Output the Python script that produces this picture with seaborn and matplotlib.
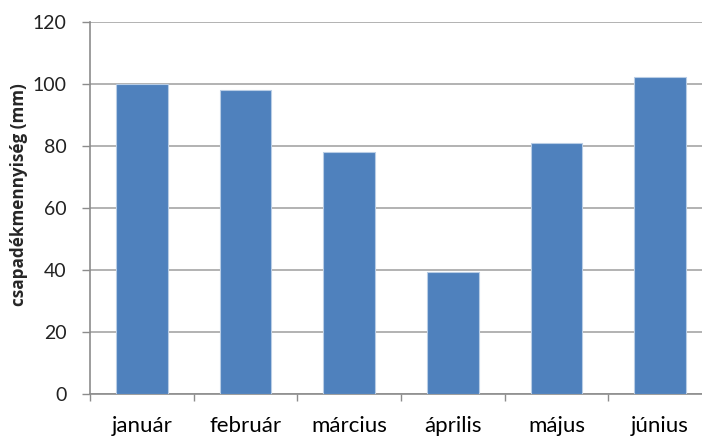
import numpy as np
import pandas as pd
import seaborn as sns
import matplotlib
matplotlib.use("Agg")
import matplotlib.pyplot as plt
from matplotlib.ticker import FixedLocator, NullFormatter

months = ["január", "február", "március", "április", "május", "június"]
rainfall = [100, 98, 78, 39.5, 81, 102.3]

df = pd.DataFrame({"month": months, "rainfall": rainfall})

sns.set_style("white")
plt.rcParams["font.family"] = ["Lato", "DejaVu Sans"]

fig = plt.figure(figsize=(7.02, 4.37), dpi=100)
ax = fig.add_axes([0.1282, 0.0984, 0.886, 0.8513])

sns.barplot(
    data=df,
    x="month",
    y="rainfall",
    color="#4F81BD",
    width=0.5,
    edgecolor="#B9CDE5",
    linewidth=0.8,
    saturation=1,
    zorder=3,
    ax=ax,
)

ax.set_xlim(-0.5, len(months) - 0.5)
ax.set_ylim(0, 120)
ax.set_yticks(np.arange(0, 121, 20))
ax.yaxis.grid(True, color="#A6A6A6", linewidth=1.2, zorder=0)
ax.set_axisbelow(True)

# category boundary ticks on the x axis
ax.xaxis.set_minor_locator(FixedLocator(np.arange(-0.5, len(months), 1.0)))
ax.xaxis.set_minor_formatter(NullFormatter())
ax.tick_params(axis="x", which="major", length=0, pad=16, labelsize=16, labelcolor="black")
ax.tick_params(axis="x", which="minor", length=5, width=1, color="#8C8C8C", direction="out", bottom=True)
ax.tick_params(axis="y", which="major", length=6, width=1, color="#8C8C8C", direction="out", left=True,
               pad=11, labelsize=14, labelcolor="#222222")

for side in ["top", "right"]:
    ax.spines[side].set_visible(False)
for side in ["left", "bottom"]:
    ax.spines[side].set_color("#8C8C8C")
    ax.spines[side].set_linewidth(1.2)

ax.set_xlabel("")
ax.set_ylabel("csapadékmennyiség (mm)", fontsize=12.3, fontweight="bold",
              family=["Open Sans", "DejaVu Sans"])
ax.yaxis.set_label_coords(-0.1, 0.535)

fig.savefig("out.png", dpi=100)
